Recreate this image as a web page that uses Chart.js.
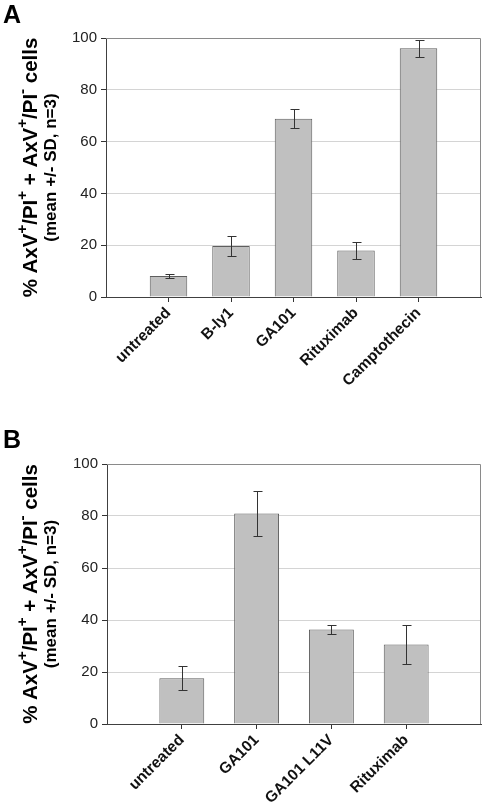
<!DOCTYPE html>
<html>
<head>
<meta charset="utf-8">
<script src="https://cdn.jsdelivr.net/npm/chart.js@4"></script>
<style>
  body { margin: 0; background: #fff; }
  .panel { position: absolute; left: 0; width: 483px; }
  .letter { position: absolute; left: 3px; font: bold 25px "Liberation Sans", Arial, sans-serif; color: #000; }
</style>
</head>
<body>
<div class="panel" style="top:0;height:400px"><canvas id="chartA" width="483" height="400"></canvas></div>
<div class="panel" style="top:400px;height:408px"><canvas id="chartB" width="483" height="408"></canvas></div>
<div class="letter" style="top:0px">A</div>
<div class="letter" style="top:425px">B</div>
<script>
const catsA = ["untreated", "B-ly1", "GA101", "Rituximab", "Camptothecin"];
const valsA = [8.1, 19.7, 68.8, 18.0, 96.0];
const errA = [0.6, 3.8, 3.6, 3.2, 3.3];

const catsB = ["untreated", "GA101", "GA101 L11V", "Rituximab"];
const valsB = [17.6, 81.0, 36.3, 30.6];
const errB = [4.7, 8.7, 1.6, 7.6];

const yMax = 100;
const yStep = 20;

const FONT = "'Liberation Sans', Arial, sans-serif";

// error bars + top/right frame + rich y title (with superscripts)
const extras = {
  id: "extras",
  afterDatasetsDraw(chart, args, opts) {
    const c = chart.ctx;
    const area = chart.chartArea;
    const y = chart.scales.y;
    const meta = chart.getDatasetMeta(0);
    c.save();
    c.strokeStyle = "#8a8a8a";
    c.lineWidth = 1;
    c.beginPath();
    c.moveTo(area.left, area.top + 0.5);
    c.lineTo(area.right - 0.5, area.top + 0.5);
    c.lineTo(area.right - 0.5, area.bottom);
    c.stroke();

    c.strokeStyle = "#333";
    meta.data.forEach((bar, i) => {
      const v = chart.data.datasets[0].data[i];
      const e = opts.err[i];
      if (v == null || e == null) return;
      const x = Math.round(bar.x) + 0.5;
      const hi = Math.round(y.getPixelForValue(v + e)) + 0.5;
      const lo = Math.round(y.getPixelForValue(v - e)) + 0.5;
      c.beginPath();
      c.moveTo(x, hi); c.lineTo(x, lo);
      c.moveTo(x - 4, hi); c.lineTo(x + 5, hi);
      c.moveTo(x - 4, lo); c.lineTo(x + 5, lo);
      c.stroke();
    });

    // y title
    const cy = (area.top + area.bottom) / 2;
    const parts = [
      ["% AxV", 0], ["+", 1], ["/PI", 0], ["+", 1], [" + AxV", 0],
      ["+", 1], ["/PI", 0], ["-", 1], [" cells", 0]
    ];
    const big = "bold 20.5px " + FONT;
    const sup = "bold 15px " + FONT;
    let total = 0;
    parts.forEach(p => { c.font = p[1] ? sup : big; total += c.measureText(p[0]).width; });
    c.translate(opts.titleX, cy);
    c.rotate(-Math.PI / 2);
    c.fillStyle = "#000";
    c.textBaseline = "alphabetic";
    c.textAlign = "left";
    let px = -total / 2;
    parts.forEach(p => {
      c.font = p[1] ? sup : big;
      c.fillText(p[0], px, p[1] ? -10 : 0);
      px += c.measureText(p[0]).width;
    });
    c.font = "bold 17px " + FONT;
    c.textAlign = "center";
    c.fillText("(mean +/- SD, n=3)", 0, opts.title2X - opts.titleX);
    c.restore();
  }
};

function makePanel(id, cats, vals, errs, pad, yWidth, xHeight) {
  const labels = [""].concat(cats, [""]);
  const data = [null].concat(vals, [null]);
  const n = labels.length;
  return new Chart(document.getElementById(id), {
    type: "bar",
    data: {
      labels: labels,
      datasets: [{
        data: data,
        backgroundColor: "#c0c0c0",
        borderColor: "#5e5e5e",
        borderWidth: 1,
        categoryPercentage: 1,
        barPercentage: 0.6
      }]
    },
    options: {
      responsive: false,
      animation: false,
      devicePixelRatio: 1,
      layout: { padding: { left: 0, right: 2, top: pad, bottom: 0 } },
      plugins: {
        legend: { display: false },
        tooltip: { enabled: false },
        extras: { err: [null].concat(errs, [null]), titleX: 37, title2X: 56 }
      },
      scales: {
        x: {
          offset: false,
          afterFit: s => { s.height = xHeight; s.paddingLeft = 0; s.paddingRight = 0; },
          grid: {
            offset: false,
            drawOnChartArea: false,
            drawTicks: true,
            tickLength: 5,
            tickColor: ctx => (ctx.index === 0 || ctx.index === n - 1) ? "rgba(0,0,0,0)" : "#333"
          },
          border: { color: "#404040", width: 1 },
          ticks: {
            autoSkip: false,
            minRotation: 45,
            maxRotation: 45,
            padding: 2,
            color: "#111",
            font: { family: FONT, size: 15.5, weight: "bold" }
          }
        },
        y: {
          min: 0,
          max: yMax,
          afterFit: s => { s.width = yWidth; s.paddingTop = 0; s.paddingBottom = 0; },
          grid: {
            color: ctx => (ctx.tick.value === 0 || ctx.tick.value === yMax) ? "rgba(0,0,0,0)" : "#d4d4d4",
            borderDash: [1, 3],
            tickBorderDash: [],
            tickColor: "#333",
            tickLength: 5
          },
          border: { color: "#404040", width: 1 },
          ticks: {
            stepSize: yStep,
            padding: 4,
            color: "#222",
            font: { family: FONT, size: 15 }
          }
        }
      }
    },
    plugins: [extras]
  });
}

makePanel("chartA", catsA, valsA, errA, 38, 106, 103);
makePanel("chartB", catsB, valsB, errB, 64, 107, 84);
</script>
</body>
</html>
